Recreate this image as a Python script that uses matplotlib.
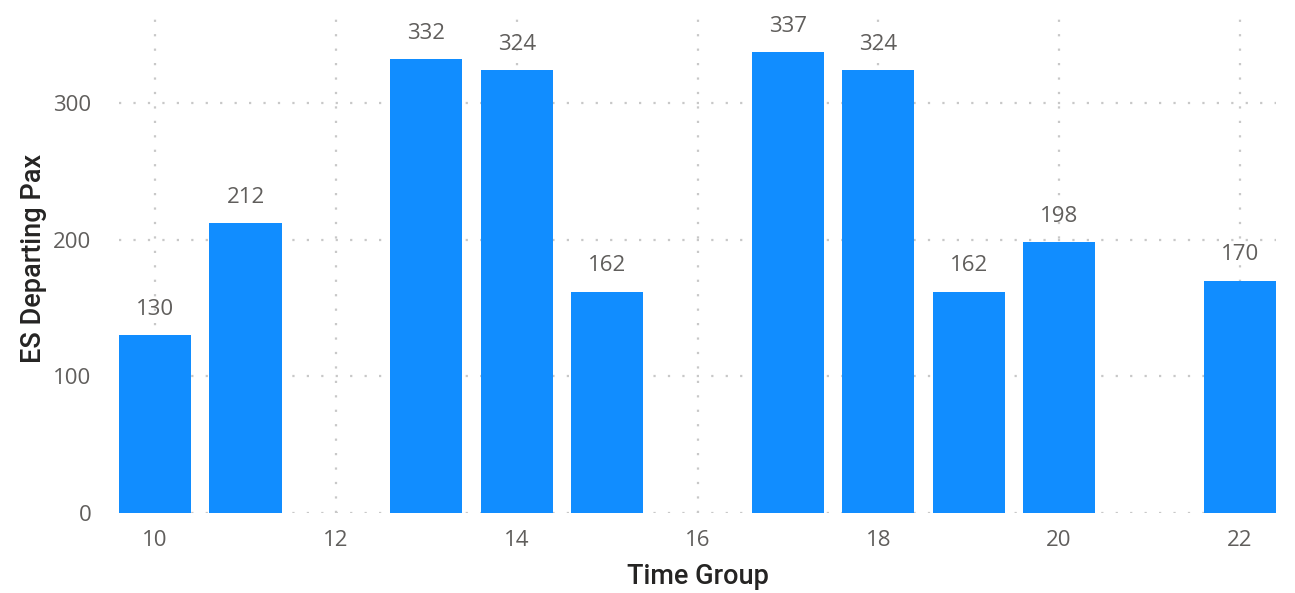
import matplotlib
matplotlib.use("Agg")
import matplotlib.pyplot as plt

time_groups = [10, 11, 13, 14, 15, 17, 18, 19, 20, 22]
departing_pax = [130, 212, 332, 324, 162, 337, 324, 162, 198, 170]
x_ticks = [10, 12, 14, 16, 18, 20, 22]
y_ticks = [0, 100, 200, 300]

bar_color = "#118DFF"
tick_color = "#605E5C"
title_color = "#252423"
grid_color = "#C8C8C8"

fig = plt.figure(figsize=(12.95, 5.93), dpi=100)
ax = fig.add_axes([119 / 1295, 1 - 513 / 593, (1276 - 119) / 1295, (513 - 10) / 593])

ax.bar(time_groups, departing_pax, width=0.8, color=bar_color, zorder=3)
ax.set_xlim(9.6, 22.4)
ax.set_ylim(0, 368)
ax.set_xticks(x_ticks)
ax.set_yticks(y_ticks)

for s in ax.spines.values():
    s.set_visible(False)
ax.tick_params(length=0, labelsize=16, labelcolor=tick_color)
ax.tick_params(axis="y", pad=20)
ax.tick_params(axis="x", pad=12)
for lab in ax.get_xticklabels() + ax.get_yticklabels():
    lab.set_family(["Open Sans", "DejaVu Sans"])

ax.grid(True, color=grid_color, linewidth=1.6, linestyle=(0, (1, 5.5)), zorder=0)
ax.set_axisbelow(True)

for xv, yv in zip(time_groups, departing_pax):
    ax.annotate(str(yv), (xv, yv), xytext=(0, 11), textcoords="offset points",
                ha="center", va="bottom", fontsize=16, color=tick_color,
                family=["Open Sans", "DejaVu Sans"])

ax.set_xlabel("Time Group", fontsize=19.5, color=title_color,
              family=["Roboto", "DejaVu Sans"], fontweight="medium")
ax.set_ylabel("ES Departing Pax", fontsize=19.5, color=title_color,
              family=["Roboto", "DejaVu Sans"], fontweight="medium")
ax.xaxis.set_label_coords(0.5, (513 - 563) / 503)
ax.yaxis.set_label_coords((47 - 119) / 1157, (513 - 258) / 503)

fig.savefig("out.png", dpi=100)
